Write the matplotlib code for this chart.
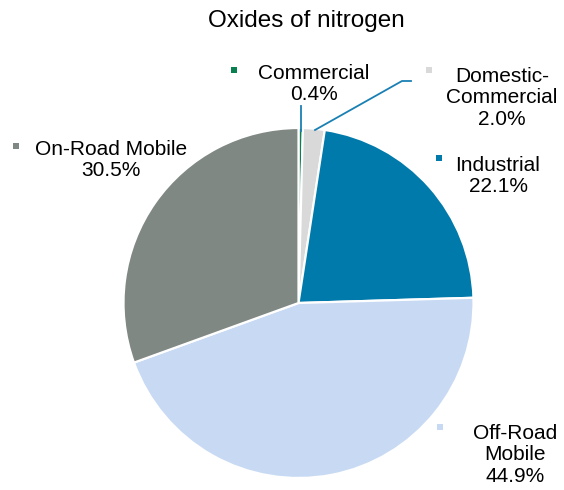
import matplotlib
matplotlib.use("Agg")
import matplotlib.pyplot as plt

plt.rcParams['font.family'] = ['Liberation Sans', 'DejaVu Sans']

# data
names = ['Commercial', 'Domestic-\nCommercial', 'Industrial', 'Off-Road\nMobile', 'On-Road Mobile']
values = [0.4, 2.0, 22.1, 44.9, 30.5]
colors = ['#0a8050', '#d9d9d9', '#0079ab', '#c8daf3', '#7f8883']

# layout (pixel coords, y from top)
W, H = 564, 490
label_xy = [(314, 84), (502, 98), (498, 176), (515, 455), (111, 160)]
marker_xy = [(234, 70), (429, 70), (439, 158), (440, 427), (16, 146)]
leaders = [[(301, 106), (301, 131)],
           [(315, 130), (402, 81), (411, 81)]]


def py(y):
    return H - y


fig = plt.figure(figsize=(W / 100, H / 100), dpi=100)
ax = fig.add_axes([0, 0, 1, 1])

ax.pie(values, colors=colors, startangle=90, counterclock=False,
       center=(298.5, py(303)), radius=175,
       wedgeprops=dict(edgecolor='white', linewidth=1.6))
ax.set_xlim(0, W)
ax.set_ylim(0, H)
ax.set_aspect('equal')
ax.axis('off')

ax.text(306, py(21), 'Oxides of nitrogen', ha='center', va='center', fontsize=17.5)

for i in range(len(values)):
    lx, ly = label_xy[i]
    ax.text(lx, py(ly), names[i] + '\n' + f'{values[i]:.1f}%', ha='center', va='center',
            multialignment='center', fontsize=15, linespacing=1.18)
    mx, my = marker_xy[i]
    ax.scatter([mx], [py(my)], marker='s', s=14, color=colors[i], linewidths=0)

for pts in leaders:
    ax.plot([p[0] for p in pts], [py(p[1]) for p in pts], color='#1a80b3', linewidth=1.3)

fig.savefig('out.png', dpi=100)
